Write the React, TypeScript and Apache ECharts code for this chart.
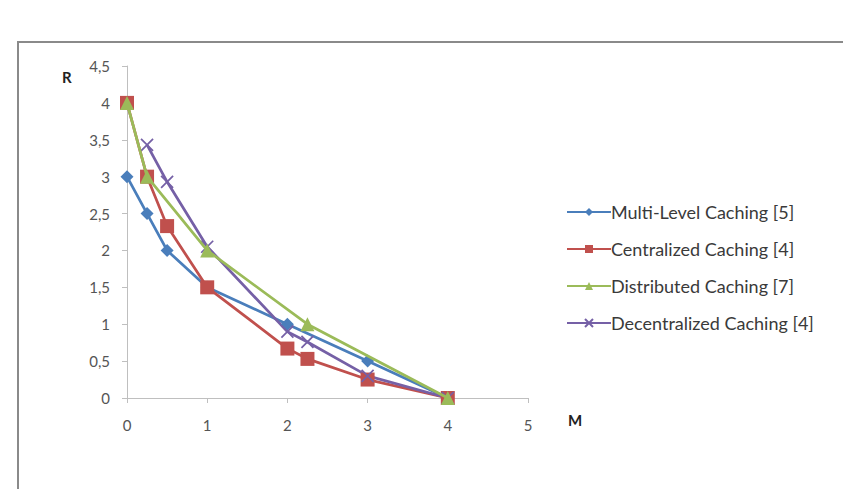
import React, { useEffect, useRef } from "react";
import * as echarts from "echarts";

const seriesNames = [
  "Multi-Level Caching [5]",
  "Centralized Caching [4]",
  "Distributed Caching [7]",
  "Decentralized Caching [4]",
];
const multiLevel: number[][] = [[0, 3], [0.25, 2.5], [0.5, 2], [1, 1.5], [2, 1], [3, 0.5], [4, 0]];
const centralized: number[][] = [[0, 4], [0.25, 3], [0.5, 2.33], [1, 1.5], [2, 0.67], [2.25, 0.53], [3, 0.25], [4, 0]];
const distributed: number[][] = [[0, 4], [0.25, 3], [1, 2], [2.25, 1], [4, 0]];
const decentralized: number[][] = [[0.25, 3.43], [0.5, 2.93], [1, 2.05], [2, 0.9], [2.25, 0.76], [3, 0.3], [4, 0]];
const colors = ["#4A7EBB", "#C0504D", "#9BBB59", "#7560A6"];
const symbols = [
  "diamond",
  "rect",
  "triangle",
  "path://M0,0L10,10M10,0L0,10",
];
const symbolSizes = [13, 14, 14, 12];

export default function App() {
  const ref = useRef<HTMLDivElement>(null);
  useEffect(() => {
    const chart = echarts.init(ref.current!, null, { renderer: "svg" });
    const datasets = [multiLevel, centralized, distributed, decentralized];
    const font = "Lato, 'Open Sans', sans-serif";
    chart.setOption({
      animation: false,
      backgroundColor: "#ffffff",
      grid: { left: 127, right: 315, top: 66, bottom: 91 },
      graphic: [
        {
          type: "rect",
          shape: { x: 18, y: 42, width: 900, height: 500 },
          style: { fill: "none", stroke: "#8a8a8a", lineWidth: 2 },
        },
        {
          type: "text",
          x: 62,
          y: 69,
          style: { text: "R", font: `bold 15px ${font}`, fill: "#222" },
        },
        {
          type: "text",
          x: 568,
          y: 412,
          style: { text: "M", font: `bold 15px ${font}`, fill: "#222" },
        },
      ],
      legend: {
        orient: "vertical",
        left: 561,
        top: 196,
        itemGap: 15,
        itemWidth: 44,
        itemHeight: 10,
        textStyle: {
          fontFamily: font,
          fontSize: 18,
          lineHeight: 22,
          color: "#3a3a3a",
          padding: [0, 0, 0, -5],
        },
        data: seriesNames,
      },
      xAxis: {
        type: "value",
        min: 0,
        max: 5,
        interval: 1,
        splitLine: { show: false },
        axisLine: { show: true, lineStyle: { color: "#BFBFBF", width: 1 } },
        axisTick: { show: true, length: 5, lineStyle: { color: "#BFBFBF" } },
        axisLabel: { fontFamily: font, fontSize: 15, color: "#555", margin: 19 },
      },
      yAxis: {
        type: "value",
        min: 0,
        max: 4.5,
        interval: 0.5,
        splitLine: { show: false },
        axisLine: { show: true, lineStyle: { color: "#BFBFBF", width: 1 } },
        axisTick: { show: true, length: 5, lineStyle: { color: "#BFBFBF" } },
        axisLabel: {
          fontFamily: font,
          fontSize: 15,
          color: "#555",
          margin: 17,
          formatter: (v: number) => String(v).replace(".", ","),
        },
      },
      series: datasets.map((d, i) => ({
        name: seriesNames[i],
        type: "line",
        data: d,
        symbol: symbols[i],
        symbolSize: symbolSizes[i],
        showSymbol: true,
        color: colors[i],
        lineStyle: { color: colors[i], width: 2.75 },
        itemStyle:
          i === 3
            ? { color: colors[i], borderColor: colors[i], borderWidth: 1.75 }
            : { color: colors[i] },
        z: 2 + (i === 2 ? 1 : 0),
      })),
    });
    return () => chart.dispose();
  }, []);
  return (
    <div
      ref={ref}
      style={{ position: "fixed", left: 0, top: 0, width: 843, height: 489 }}
    />
  );
}
